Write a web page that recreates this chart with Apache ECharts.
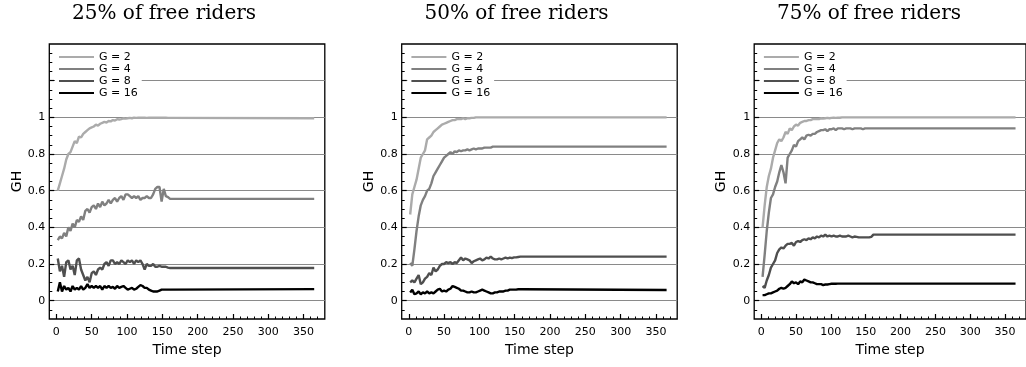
<!DOCTYPE html>
<html><head><meta charset="utf-8">
<script src="https://cdn.jsdelivr.net/npm/echarts@6/dist/echarts.min.js"></script>
<style>html,body{margin:0;padding:0;background:#fff}#c{width:1026px;height:367px}</style>
</head><body><div id="c"></div>
<script>
const panelTitles = ['25% of free riders', '50% of free riders', '75% of free riders'];
const seriesNames = ['G = 2', 'G = 4', 'G = 8', 'G = 16'];
const xTickLabels = [0, 50, 100, 150, 200, 250, 300, 350];
const yTickLabels = [0, 0.2, 0.4, 0.6, 0.8, 1];
const yGridValues = [0, 0.2, 0.4, 0.6, 0.8, 1, 1.2];

const timeSteps = [2,5,8,11,14,17,20,23,26,29,32,35,38,41,44,47,50,53,56,59,62,65,68,71,74,77,80,83,86,89,92,95,98,101,104,107,110,113,116,119,122,125,128,131,134,137,140,143,146,149,152,155,158,161,365];

const p25_g2 = [0.60,0.64,0.68,0.72,0.77,0.80,0.81,0.84,0.87,0.86, 0.895,0.89,0.91,0.92,0.93,0.94,0.945,0.95,0.96,0.955, 0.965,0.97,0.975,0.972,0.98,0.978,0.985,0.983,0.99,0.988, 0.99,0.995,0.993,0.995,0.997,0.995,0.998,0.997,0.998,0.998, 0.998,0.998,0.997,0.998,0.998,0.998,0.998,0.998,0.998,0.998, 0.998,0.998,0.997,0.997, 0.995];
const p25_g4 = [0.33,0.35,0.34,0.37,0.35,0.40,0.38,0.42,0.40,0.44, 0.43,0.46,0.44,0.49,0.50,0.48,0.51,0.52,0.50,0.53, 0.51,0.54,0.52,0.53,0.55,0.53,0.55,0.56,0.54,0.56, 0.57,0.55,0.58,0.58,0.57,0.56,0.57,0.56,0.57,0.55, 0.56,0.56,0.57,0.56,0.56,0.58,0.61,0.62,0.62,0.54, 0.61,0.57,0.565,0.555, 0.555];
const p25_g8 = [0.23,0.16,0.19,0.13,0.21,0.22,0.17,0.19,0.14,0.22, 0.23,0.17,0.14,0.11,0.13,0.10,0.15,0.16,0.14,0.17, 0.18,0.17,0.20,0.21,0.19,0.22,0.22,0.20,0.21,0.20, 0.22,0.21,0.20,0.22,0.21,0.22,0.20,0.22,0.21,0.22, 0.20,0.17,0.20,0.19,0.19,0.20,0.185,0.185,0.19,0.185, 0.185,0.185,0.18,0.178, 0.178];
const p25_g16 = [0.05,0.10,0.05,0.08,0.06,0.07,0.05,0.08,0.06,0.07, 0.06,0.08,0.06,0.07,0.09,0.07,0.08,0.07,0.08,0.07, 0.08,0.06,0.08,0.07,0.08,0.07,0.075,0.065,0.08,0.07, 0.075,0.08,0.07,0.06,0.065,0.07,0.06,0.065,0.075,0.085, 0.08,0.07,0.07,0.06,0.055,0.05,0.05,0.05,0.055,0.06, 0.06,0.06,0.06,0.06, 0.063];

const p50_g2 = [0.47,0.58,0.62,0.66,0.72,0.78,0.80,0.82,0.88,0.89, 0.90,0.92,0.93,0.94,0.95,0.96,0.965,0.97,0.975,0.98, 0.985,0.985,0.99,0.99,0.99,0.995,0.99,0.995,0.995,0.997, 0.997,1,1,1,1,1,1,1,1,1, 1,1,1,1,1,1,1,1,1,1, 1,1,1,1, 1];
const p50_g4 = [0.205,0.19,0.28,0.38,0.46,0.52,0.55,0.57,0.60,0.61, 0.64,0.68,0.70,0.72,0.74,0.76,0.78,0.79,0.80,0.81, 0.80,0.815,0.81,0.82,0.815,0.82,0.82,0.825,0.82,0.825, 0.83,0.825,0.83,0.83,0.83,0.835,0.835,0.835,0.835,0.84, 0.84,0.84,0.84,0.84,0.84,0.84,0.84,0.84,0.84,0.84, 0.84,0.84,0.84,0.84, 0.84];
const p50_g8 = [0.10,0.11,0.10,0.12,0.14,0.09,0.10,0.12,0.13,0.15, 0.14,0.18,0.16,0.17,0.19,0.20,0.20,0.21,0.205,0.21, 0.20,0.21,0.205,0.22,0.235,0.22,0.23,0.225,0.22,0.205, 0.215,0.22,0.225,0.23,0.22,0.225,0.235,0.23,0.24,0.23, 0.225,0.225,0.23,0.225,0.23,0.235,0.23,0.235,0.232,0.236, 0.236,0.238,0.24,0.24, 0.24];
const p50_g16 = [0.045,0.06,0.035,0.04,0.05,0.035,0.045,0.04,0.05,0.04, 0.045,0.04,0.05,0.06,0.065,0.05,0.055,0.05,0.06,0.065, 0.08,0.075,0.07,0.065,0.055,0.055,0.05,0.045,0.045,0.05, 0.045,0.045,0.05,0.055,0.06,0.055,0.05,0.045,0.04,0.04, 0.045,0.045,0.05,0.05,0.05,0.055,0.055,0.06,0.06,0.06, 0.06,0.062,0.062,0.062, 0.058];

const p75_g2 = [0.40,0.52,0.62,0.68,0.72,0.78,0.82,0.86,0.88,0.87, 0.89,0.92,0.91,0.94,0.93,0.95,0.96,0.955,0.97,0.975, 0.98,0.98,0.985,0.985,0.99,0.99,0.99,0.99,0.995,0.993, 0.995,0.997,0.995,0.997,0.998,0.997,0.998,0.998,1,1, 1,1,1,1,1,1,1,1,1,1, 1,1,1,1, 1];
const p75_g4 = [0.13,0.25,0.38,0.48,0.56,0.58,0.62,0.65,0.70,0.74, 0.70,0.64,0.78,0.80,0.82,0.85,0.84,0.87,0.88,0.89, 0.88,0.90,0.905,0.90,0.91,0.91,0.92,0.925,0.93,0.93, 0.935,0.925,0.935,0.935,0.94,0.93,0.94,0.94,0.94,0.935, 0.94,0.94,0.94,0.935,0.94,0.94,0.94,0.94,0.935,0.94, 0.94,0.94,0.94,0.94, 0.94];
const p75_g8 = [0.08,0.07,0.11,0.14,0.18,0.20,0.22,0.26,0.28,0.29, 0.285,0.30,0.31,0.31,0.315,0.30,0.32,0.325,0.32,0.33, 0.335,0.33,0.34,0.335,0.345,0.34,0.35,0.345,0.355,0.35, 0.36,0.35,0.355,0.35,0.355,0.35,0.35,0.355,0.35,0.35, 0.35,0.355,0.35,0.345,0.35,0.348,0.345,0.345,0.345,0.345, 0.345,0.345,0.348,0.36, 0.36];
const p75_g16 = [0.03,0.03,0.035,0.04,0.04,0.045,0.05,0.055,0.065,0.07, 0.065,0.07,0.08,0.09,0.105,0.095,0.10,0.09,0.105,0.10, 0.115,0.11,0.105,0.10,0.10,0.095,0.09,0.09,0.09,0.085, 0.088,0.088,0.09,0.092,0.093,0.092,0.093,0.093,0.093,0.093, 0.093,0.093,0.093,0.093,0.093,0.093,0.093,0.093,0.093,0.093, 0.093,0.093,0.093,0.093, 0.093];

const panelData = [
  [p25_g2, p25_g4, p25_g8, p25_g16],
  [p50_g2, p50_g4, p50_g8, p50_g16],
  [p75_g2, p75_g4, p75_g8, p75_g16]
];
const lineColors = ['#ababab', '#808080', '#4f4f4f', '#000000'];

const FONT = 'DejaVu Sans';
const gridLefts = [49.3, 401.7, 754.2];
const gridTop = 44, gridW = 275.5, gridH = 275;

const xMinor = [];
for (let v = 0; v <= 370; v += 10) xMinor.push(v);
const yMinor = [];
for (let k = -1; k <= 27; k++) yMinor.push(Math.round(k * 5) / 100);

const grids = [], xAxes = [], yAxes = [], series = [], titles = [], legends = [];
gridLefts.forEach((left, p) => {
  grids.push({left: left, top: gridTop, width: gridW, height: gridH, show: true,
    borderColor: '#000', borderWidth: 1.3, backgroundColor: 'transparent'});
  const xi = xAxes.length, yi = yAxes.length;
  xAxes.push({type: 'value', gridIndex: p, min: -10, max: 380, position: 'bottom',
    name: 'Time step', nameLocation: 'middle', nameGap: 24,
    nameTextStyle: {fontFamily: FONT, fontSize: 14, color: '#000'},
    axisLine: {show: false, onZero: false},
    axisTick: {show: true, inside: true, length: 5, customValues: xTickLabels, lineStyle: {color: '#000', width: 1.2}},
    axisLabel: {show: true, customValues: xTickLabels, margin: 8, fontFamily: FONT, fontSize: 11, color: '#000'},
    splitLine: {show: false}});
  xAxes.push({type: 'value', gridIndex: p, min: -10, max: 380, position: 'bottom',
    axisLine: {show: false, onZero: false},
    axisTick: {show: true, inside: true, length: 2.5, customValues: xMinor, lineStyle: {color: '#000', width: 1}},
    axisLabel: {show: false}, splitLine: {show: false}});
  yAxes.push({type: 'value', gridIndex: p, min: -0.1, max: 1.4, position: 'left',
    name: 'GH', nameLocation: 'middle', nameGap: 24,
    nameTextStyle: {fontFamily: FONT, fontSize: 14, color: '#000'},
    axisLine: {show: false, onZero: false},
    axisTick: {show: true, inside: true, length: 5, customValues: yGridValues, lineStyle: {color: '#000', width: 1.2}},
    axisLabel: {show: true, customValues: yTickLabels, margin: 4, fontFamily: FONT, fontSize: 11, color: '#000'},
    splitLine: {show: true, lineStyle: {color: '#8a8a8a', width: 1}}});
  yAxes.push({type: 'value', gridIndex: p, min: -0.1, max: 1.4, position: 'left',
    axisLine: {show: false, onZero: false},
    axisTick: {show: true, inside: true, length: 3, customValues: yMinor, lineStyle: {color: '#000', width: 1}},
    axisLabel: {show: false}, splitLine: {show: false}});
  panelData[p].forEach((vals, s) => {
    series.push({type: 'line', name: seriesNames[s], xAxisIndex: xi, yAxisIndex: yi,
      data: timeSteps.map((t, i) => [t, vals[i]]),
      showSymbol: false, symbol: 'none', color: lineColors[s],
      lineStyle: {width: 2.4, color: lineColors[s]}, z: 3 + s, animation: false});
  });
  titles.push({text: panelTitles[p], left: left + gridW / 2 - 23, top: 4, textAlign: 'center', padding: 0,
    textStyle: {fontFamily: 'DejaVu Serif', fontSize: 20, fontWeight: 'normal', color: '#000'}});
  legends.push({data: seriesNames, orient: 'vertical', left: left + 5.7, top: 49,
    padding: [2, 4, 2, 4], itemGap: 0, itemWidth: 35, itemHeight: 2, icon: 'rect',
    backgroundColor: '#fff', selectedMode: false,
    textStyle: {fontFamily: FONT, fontSize: 11, color: '#000', lineHeight: 12}});
});

const chart = echarts.init(document.getElementById('c'), null, {renderer: 'canvas'});
chart.setOption({animation: false, title: titles, legend: legends, grid: grids,
  xAxis: xAxes, yAxis: yAxes, series: series});
</script></body></html>
